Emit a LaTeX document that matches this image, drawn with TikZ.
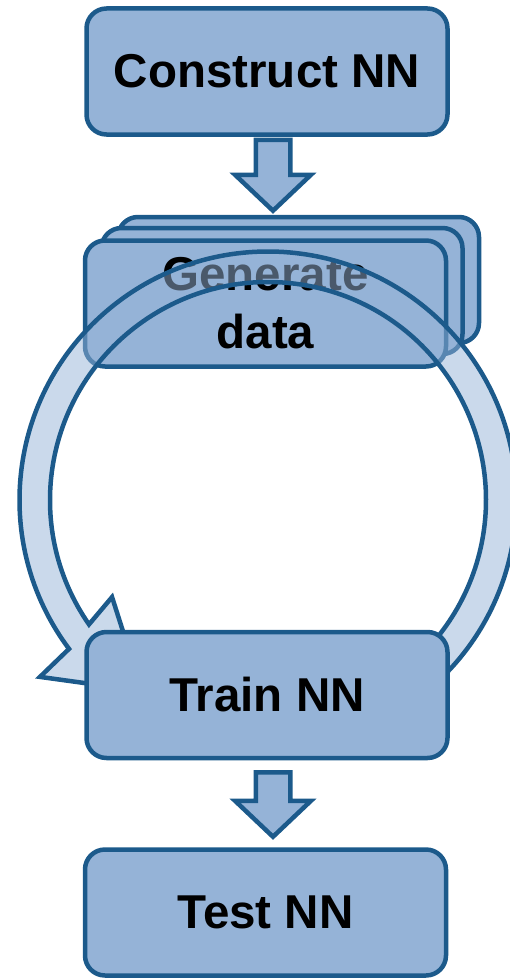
\documentclass[tikz,border=0pt]{standalone}
\usepackage{fontspec}
\setmainfont{Liberation Sans}
\usepackage{tikz}
\usetikzlibrary{calc}
\definecolor{bx}{HTML}{95B3D7}
\definecolor{ln}{HTML}{1C5A8B}

\tikzset{
  box/.style = {draw = ln, fill = bx, line width = 4.5pt, rounded corners = 20pt,
    minimum width = 361pt, minimum height = 126pt, align = center,
    font = \bfseries\fontsize{47.5pt}{58pt}\selectfont},
  blockline/.style = {draw = ln, fill = bx, line width = 4.5pt},
  loopband/.style = {draw = ln, fill = bx, fill opacity = 0.5, line width = 4.5pt}
}

% block arrow from a top point down to a tip
\newcommand{\blockarrow}[2]{%
  \filldraw[blockline] ($(#1)+(-17.25,0)$) -- ($(#2)+(-17.25,36)$) -- ($(#2)+(-38,36)$)
    -- (#2) -- ($(#2)+(38,36)$) -- ($(#2)+(17.25,36)$) -- ($(#1)+(17.25,0)$) -- cycle;
}

\begin{document}
\begin{tikzpicture}[x = 1pt, y = 1pt]
  \useasboundingbox (0,0) rectangle (509,-979);

  % Construct NN
  \node[box] (cnn) at (267,-71.5) {Construct NN};

  % Generate data (stacked)
  \coordinate (genpos) at (265.5,-302);
  \node[box] (gen3) at ($(genpos)+(33,22)$) {};
  \node[box] (gen2) at ($(genpos)+(16.5,11)$) {};
  \node[box] (gen) at ($(genpos)+(0,-1.5)$) {Generate\\data};

  % Arrow 1
  \coordinate (a1top) at ($(cnn.south)+(6,-3)$);
  \coordinate (a1tip) at ($(a1top |- gen3.north)+(0,4)$);
  \blockarrow{a1top}{a1tip}

  % Loop
  \coordinate (loop) at (268,-500);
  \filldraw[loopband] ($(loop)+(-50:248.5)$) arc [
    start angle = -50,
    end angle = 216.8,
    radius = 248.5
    ]
    -- ($(loop)+(217.8:288.6)$) -- ($(loop)+(236.6:228.8)$) -- ($(loop)+(211.9:183.7)$)
    -- ($(loop)+(214.8:218)$) arc [
    start angle = 214.8,
    end angle = -50,
    radius = 218
    ] -- cycle;

  % Train NN
  \node[box] (train) at (267,-695) {Train NN};

  % Test NN
  \node[box] (test) at (265.5,-912.5) {Test NN};

  % Arrow 2
  \coordinate (a2top) at ($(train.south)+(6,-12)$);
  \coordinate (a2tip) at ($(a2top |- test.north)+(0,10.5)$);
  \blockarrow{a2top}{a2tip}
\end{tikzpicture}
\end{document}
